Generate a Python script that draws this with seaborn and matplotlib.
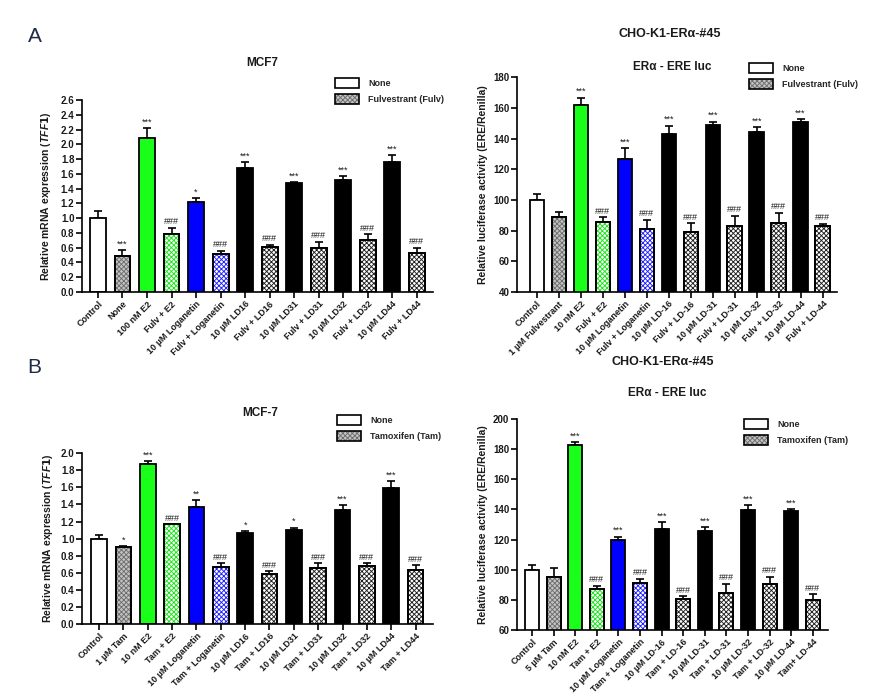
import numpy as np
import matplotlib
matplotlib.use("Agg")
import matplotlib.pyplot as plt
from matplotlib.patches import Patch
from matplotlib.ticker import FormatStrFormatter
import seaborn as sns

# ------------------------------
# DATA
# ------------------------------
labels_a1 = ["Control", "None", "100 nM E2", "Fulv + E2", "10 µM Loganetin", "Fulv + Loganetin",
             "10 µM LD16", "Fulv + LD16", "10 µM LD31", "Fulv + LD31", "10 µM LD32", "Fulv + LD32",
             "10 µM LD44", "Fulv + LD44"]
mean_a1 = [1.00, 0.49, 2.08, 0.79, 1.22, 0.51, 1.68, 0.61, 1.47, 0.59, 1.51, 0.71, 1.76, 0.53]
sem_a1 = [0.09, 0.08, 0.14, 0.08, 0.05, 0.05, 0.08, 0.03, 0.02, 0.09, 0.06, 0.07, 0.09, 0.07]
sig_a1 = ["", "***", "***", "###", "*", "###", "***", "###", "***", "###", "***", "###", "***", "###"]

labels_a2 = ["Control", "1 µM Fulvestrant", "10 nM E2", "Fulv + E2", "10 µM Loganetin", "Fulv + Loganetin",
             "10 µM LD-16", "Fulv + LD-16", "10 µM LD-31", "Fulv + LD-31", "10 µM LD-32", "Fulv + LD-32",
             "10 µM LD-44", "Fulv + LD-44"]
mean_a2 = [100, 88.6, 162.1, 85.7, 126.7, 81.1, 143.2, 79.2, 149.1, 83.1, 144.5, 85.1, 151.0, 83.1]
sem_a2 = [3.6, 3.2, 4.6, 2.9, 6.9, 5.9, 5.2, 5.4, 1.9, 6.5, 2.8, 6.5, 1.6, 1.3]
sig_a2 = ["", "", "***", "###", "***", "###", "***", "###", "***", "###", "***", "###", "***", "###"]

labels_b1 = ["Control", "1 µM Tam", "10 nM E2", "Tam + E2", "10 µM Loganetin", "Tam + Loganetin",
             "10 µM LD16", "Tam + LD16", "10 µM LD31", "Tam + LD31", "10 µM LD32", "Tam + LD32",
             "10 µM LD44", "Tam + LD44"]
mean_b1 = [1.00, 0.90, 1.87, 1.17, 1.37, 0.67, 1.06, 0.585, 1.10, 0.655, 1.33, 0.68, 1.59, 0.635]
sem_b1 = [0.04, 0.01, 0.04, 0.0, 0.08, 0.04, 0.03, 0.035, 0.03, 0.055, 0.06, 0.03, 0.08, 0.055]
sig_b1 = ["", "*", "***", "###", "**", "###", "*", "###", "*", "###", "***", "###", "***", "###"]

labels_b2 = ["Control", "5 µM Tam", "10 nM E2", "Tam + E2", "10 µM Loganetin", "Tam + Loganetin",
             "10 µM LD-16", "Tam + LD-16", "10 µM LD-31", "Tam + LD-31", "10 µM LD-32", "Tam + LD-32",
             "10 µM LD-44", "Tam+ LD-44"]
mean_b2 = [100, 95, 182.5, 87.5, 119.6, 91.2, 126.9, 80.4, 125.4, 84.8, 139.7, 90.8, 139.3, 79.9]
sem_b2 = [3.4, 6.0, 2.0, 2.0, 2.4, 2.9, 4.7, 2.0, 2.8, 6.0, 3.2, 4.6, 0.9, 3.8]
sig_b2 = ["", "", "***", "###", "***", "###", "***", "###", "***", "###", "***", "###", "***", "###"]

# bar fill kind per position (same order in every panel)
fill_kind = ["none", "drug", "e2", "drug_e2", "log", "drug_log",
             "ld", "drug_ld", "ld", "drug_ld", "ld", "drug_ld", "ld", "drug_ld"]

# ------------------------------
# STYLE
# ------------------------------
HATCH = "xxxxxxx"
STYLES = {
    "none": ("white", None, None),
    "drug": ("#c4c4c4", "#6e6e6e", HATCH),
    "e2": ("#19ff19", None, None),
    "drug_e2": ("white", "#19e619", HATCH),
    "log": ("#0000ff", None, None),
    "drug_log": ("white", "#2020ff", HATCH),
    "ld": ("black", None, None),
    "drug_ld": ("white", "#202020", HATCH),
}
TXT = "#1a1a1a"

sns.set_theme(style="ticks")
plt.rcParams["font.family"] = ["Liberation Sans", "DejaVu Sans"]
plt.rcParams["font.weight"] = "bold"
plt.rcParams["axes.labelweight"] = "bold"
plt.rcParams["mathtext.fontset"] = "custom"
plt.rcParams["mathtext.it"] = "Liberation Sans:italic:bold"
plt.rcParams["hatch.linewidth"] = 0.65

fig = plt.figure(figsize=(8.83, 6.95), dpi=100)


def draw_panel(ax, labels, mean, sem, sig, ymin, ymax, ystep, xlim, ylabel, fmt, ylab_x):
    faces = [STYLES[k][0] for k in fill_kind]
    sns.barplot(x=labels, y=mean, hue=labels, palette=faces, saturation=1, width=0.65,
                edgecolor="black", linewidth=1.3, errorbar=None, legend=False, ax=ax, zorder=2)
    bars = list(ax.patches)
    n = len(labels)
    ax.errorbar(np.arange(n), mean, yerr=[np.zeros(n), sem], fmt="none", ecolor="black",
                elinewidth=1.2, capsize=3, capthick=1.2, zorder=1)
    for p, k in zip(bars, fill_kind):
        face, hcol, hatch = STYLES[k]
        if hatch:
            cx = p.get_x() + p.get_width() / 2
            ax.bar(cx, p.get_height(), width=p.get_width(), facecolor="none", edgecolor=hcol,
                   hatch=hatch, linewidth=0, zorder=2.1)
            ax.bar(cx, p.get_height(), width=p.get_width(), facecolor="none", edgecolor="black",
                   linewidth=1.3, zorder=2.2)
    pad = (ymax - ymin) * 0.008
    for i, s in enumerate(sig):
        if s:
            ax.text(i, mean[i] + sem[i] + pad, s, ha="center", va="bottom", fontsize=6.5,
                    color=TXT, fontweight="normal")
    ax.set_ylim(ymin, ymax)
    ax.set_yticks(np.arange(ymin, ymax + ystep / 2, ystep))
    ax.yaxis.set_major_formatter(FormatStrFormatter(fmt))
    ax.set_xlim(*xlim)
    sns.despine(ax=ax)
    for sp in ["left", "bottom"]:
        ax.spines[sp].set_linewidth(1.2)
        ax.spines[sp].set_color("black")
    ax.tick_params(axis="both", direction="out", length=4, width=1.2, color="black",
                   labelsize=7, labelcolor=TXT, pad=1.5)
    ax.set_xticks(np.arange(n))
    ax.set_xticklabels(labels, rotation=45, ha="right", rotation_mode="anchor", fontsize=6.5)
    ax.set_xlabel("")
    ax.set_ylabel(ylabel, fontsize=7.5, color=TXT, fontweight="bold")
    ax.yaxis.set_label_coords(ylab_x, 0.5)


def add_legend(anchor, drug_label):
    plain = Patch(facecolor="white", edgecolor="black", linewidth=1.2)
    hatched = (Patch(facecolor="#c4c4c4", edgecolor="none"),
               Patch(facecolor="none", edgecolor="#6e6e6e", hatch=HATCH, linewidth=0),
               Patch(facecolor="none", edgecolor="black", linewidth=1.2))
    fig.legend(handles=[plain, hatched], labels=["None", drug_label], loc="upper left",
               bbox_to_anchor=anchor, frameon=False, fontsize=6.5, handlelength=2.7,
               handleheight=1.35, handletextpad=1.0, labelspacing=0.6, borderpad=0,
               borderaxespad=0)


ax_a1 = fig.add_axes([0.0929, 0.580, 0.397, 0.276])
draw_panel(ax_a1, labels_a1, mean_a1, sem_a1, sig_a1, 0, 2.6, 0.2, (-0.65, 13.65),
           r"Relative mRNA expression ($\mathit{TFF1}$)", "%.1f", -0.083)

ax_a2 = fig.add_axes([0.5855, 0.580, 0.362, 0.309])
draw_panel(ax_a2, labels_a2, mean_a2, sem_a2, sig_a2, 40, 180, 20, (-0.9, 13.64),
           "Relative luciferase activity (ERE/Renilla)", "%d", -0.09)

ax_b1 = fig.add_axes([0.0929, 0.102, 0.397, 0.246])
draw_panel(ax_b1, labels_b1, mean_b1, sem_b1, sig_b1, 0, 2.0, 0.2, (-0.7, 13.7),
           r"Relative mRNA expression ($\mathit{TFF1}$)", "%.1f", -0.077)

ax_b2 = fig.add_axes([0.5855, 0.0935, 0.352, 0.3035])
draw_panel(ax_b2, labels_b2, mean_b2, sem_b2, sig_b2, 60, 200, 20, (-0.69, 13.69),
           "Relative luciferase activity (ERE/Renilla)", "%d", -0.093)

add_legend((0.3794, 0.8878), "Fulvestrant (Fulv)")
add_legend((0.848, 0.9094), "Fulvestrant (Fulv)")
add_legend((0.3817, 0.4029), "Tamoxifen (Tam)")
add_legend((0.8426, 0.397), "Tamoxifen (Tam)")

# titles and panel letters
fig.text(0.2967, 0.9094, "MCF7", ha="center", va="center", fontsize=8.5, color=TXT)
fig.text(0.7588, 0.951, "CHO-K1-ERα-#45", ha="center", va="center", fontsize=9, color=TXT)
fig.text(0.761, 0.9036, "ERα - ERE luc", ha="center", va="center", fontsize=8.5, color=TXT)
fig.text(0.2945, 0.4058, "MCF-7", ha="center", va="center", fontsize=8.5, color=TXT)
fig.text(0.7508, 0.4791, "CHO-K1-ERα-#45", ha="center", va="center", fontsize=9, color=TXT)
fig.text(0.7554, 0.4345, "ERα - ERE luc", ha="center", va="center", fontsize=8.5, color=TXT)
fig.text(0.0396, 0.9468, "A", ha="center", va="center", fontsize=15, fontweight="normal", color="#1f2a44")
fig.text(0.0385, 0.4719, "B", ha="center", va="center", fontsize=15, fontweight="normal", color="#1f2a44")

fig.savefig("out.png", dpi=100, facecolor="white")
